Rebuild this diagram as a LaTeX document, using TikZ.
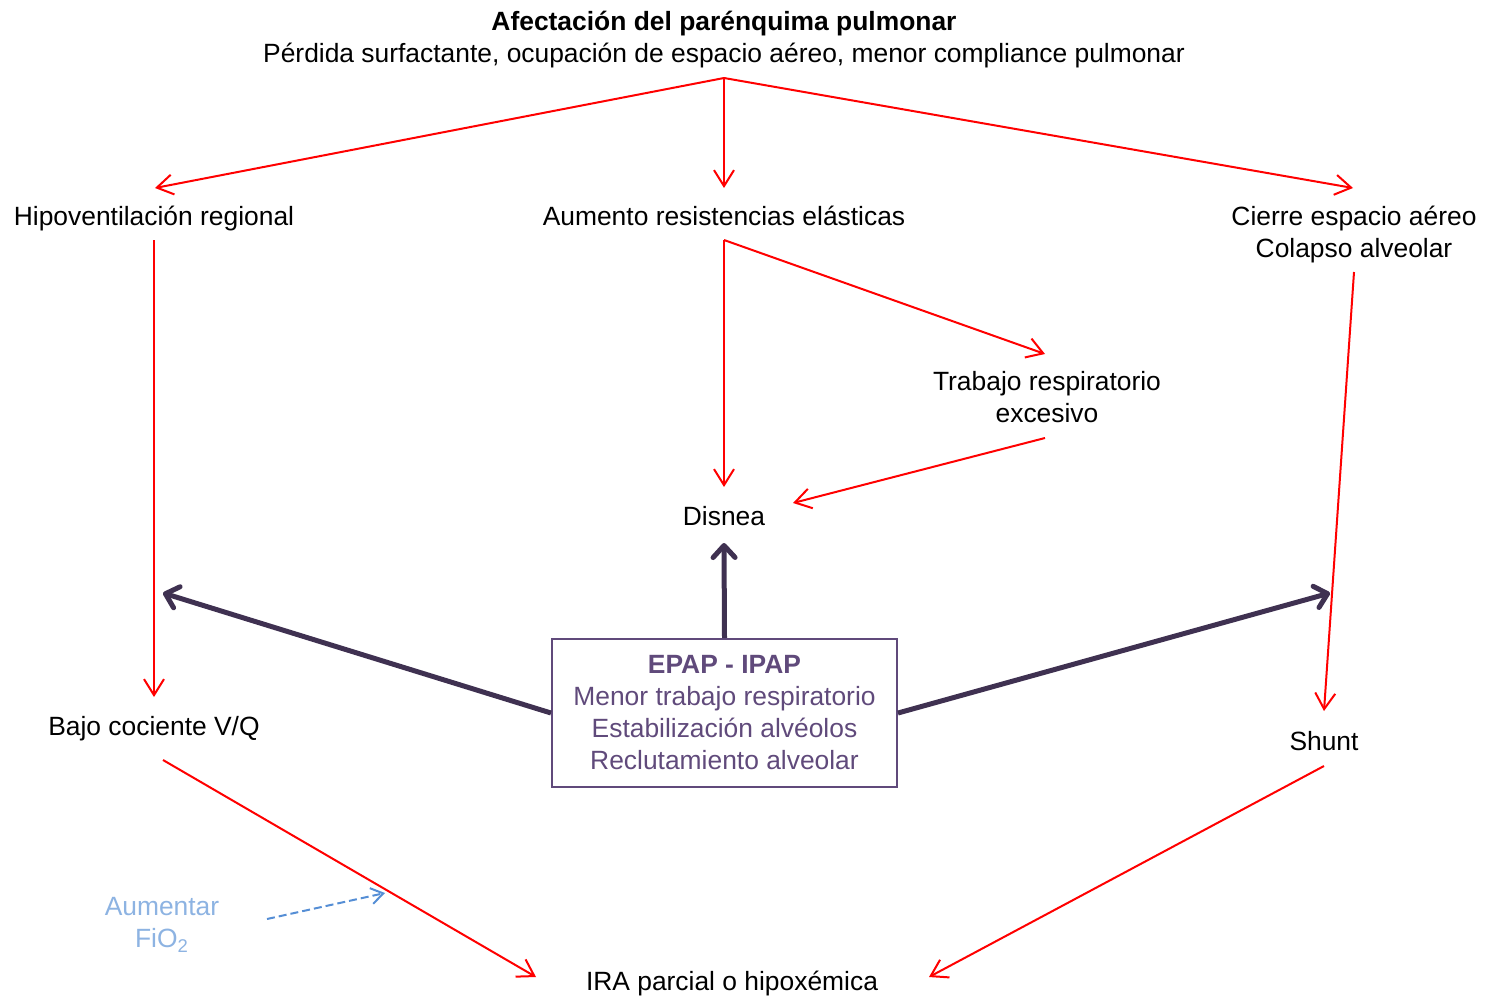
\documentclass[tikz,border=0pt]{standalone}
\usepackage{fontspec}
\setmainfont{Liberation Sans}
\usetikzlibrary{arrows.meta, positioning, calc}
\definecolor{qred}{RGB}{255, 0, 0}
\definecolor{vpurple}{RGB}{63, 49, 81}
\definecolor{vtext}{RGB}{96, 74, 123}
\definecolor{oblue}{RGB}{85, 142, 213}
\definecolor{otext}{RGB}{141, 179, 226}

\begin{document}
\begin{tikzpicture}[
    x=0.5pt, y=-0.5pt,
    every node/.style={font=\fontsize{13.2}{16}\selectfont, align=center, inner sep=0pt},
    effect/.style={text=black},
    therapy/.style={draw=vtext, line width=1pt, text=vtext, minimum width=172.5pt, minimum height=74pt},
    redarr/.style={draw=qred, line width=1pt, -{Straight Barb[length=8pt,width=10pt]}},
    vniarr/.style={draw=vpurple, line width=2.5pt, -{Straight Barb[length=6pt,width=11pt,round]}},
    o2arr/.style={draw=oblue, line width=1pt, dash pattern=on 4pt off 2pt, -{Straight Barb[length=6pt,width=8pt]}},
]
    \useasboundingbox (0,0) rectangle (1487,995);

    % Cause
    \node[effect] (cause) at (724,40) {\textbf{Afectación del parénquima pulmonar}\\Pérdida surfactante, ocupación de espacio aéreo, menor compliance pulmonar};

    % First level
    \node[effect] (hipo) at (154,219) {Hipoventilación regional};
    \node[effect] (aum) at (724,216) {Aumento resistencias elásticas};
    \node[effect] (cierre) at (1354,235) {Cierre espacio aéreo\\Colapso alveolar};

    % Second level
    \node[effect] (trab) at (1047,397) {Trabajo respiratorio\\excesivo};
    \node[effect] (disnea) at (724,516) {Disnea};
    \node[effect] (bajo) at (154,729) {Bajo cociente V/Q};
    \node[effect] (shunt) at (1324,741) {Shunt};
    \node[effect] (ira) at (732,984) {IRA parcial o hipoxémica};

    % Treatment
    \node[therapy] (epap) at (724.5,713) {\textbf{EPAP - IPAP}\\Menor trabajo respiratorio\\Estabilización alvéolos\\Reclutamiento alveolar};
    \node[text=otext] (fio) at (162,925) {Aumentar\\FiO\textsubscript{2}};

    \coordinate (vqline) at (163,593);
    \coordinate (shline) at (1330,593);
    \coordinate (iraline) at (385,893);

    % Red arrows
    \draw[redarr] ([yshift=-19pt]cause.center) -- ([xshift=0.5pt,yshift=15.5pt]hipo.center);
    \draw[redarr] ([yshift=-19pt]cause.center) -- ([yshift=14pt]aum.center);
    \draw[redarr] ([yshift=-19pt]cause.center) -- ([xshift=-0.5pt,yshift=23.5pt]cierre.center);
    \draw[redarr] ([yshift=-10.5pt]hipo.center) -- ([yshift=16pt]bajo.center);
    \draw[redarr] ([yshift=-12pt]aum.center) -- ([yshift=14.5pt]disnea.center);
    \draw[redarr] ([yshift=-12pt]aum.center) -- ([xshift=-1pt,yshift=21.5pt]trab.center);
    \draw[redarr] ([xshift=-1pt,yshift=-20.5pt]trab.center) -- ([xshift=34.5pt,yshift=6.5pt]disnea.center);
    \draw[redarr] ([yshift=-18.5pt]cierre.center) -- ([yshift=15pt]shunt.center);
    \draw[redarr] ([xshift=4.5pt,yshift=-15.5pt]bajo.center) -- ([xshift=-98pt,yshift=3.5pt]ira.center);
    \draw[redarr] ([yshift=-12.5pt]shunt.center) -- ([xshift=98.5pt,yshift=3.5pt]ira.center);

    % NIV arrows
    \draw[vniarr] (epap.north) -- ([yshift=-13.5pt]disnea.center);
    \draw[vniarr] (epap.west) -- (vqline);
    \draw[vniarr] (epap.east) -- (shline);

    % Oxygen
    \draw[o2arr] ([xshift=52.5pt,yshift=3pt]fio.center) -- (iraline);
\end{tikzpicture}
\end{document}
